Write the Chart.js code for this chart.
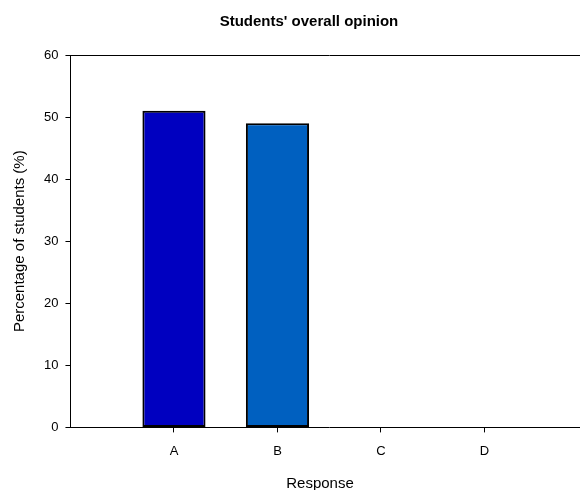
<!DOCTYPE html>
<html>
<head>
<meta charset="utf-8">
<script src="https://cdn.jsdelivr.net/npm/chart.js@4/dist/chart.umd.min.js"></script>
<style>
  html, body { margin: 0; padding: 0; background: #fff; overflow: hidden; }
  #wrap { position: absolute; left: 0; top: 0; width: 618px; height: 490px; }
  .txt { position: absolute; font-family: 'Liberation Sans', Arial, sans-serif; color: #000;
         white-space: nowrap; transform: translate(-50%, -50%); line-height: 1; }
  #title { left: 309px; top: 20px; font-size: 15px; font-weight: bold; }
  #xTitle { left: 320px; top: 482px; font-size: 15px; }
</style>
</head>
<body>
<div id="wrap"><canvas id="opinionChart" width="618" height="490"></canvas></div>
<div class="txt" id="title">Students' overall opinion</div>
<div class="txt" id="xTitle">Response</div>
<script>
// values
const responses = ["A", "B", "C", "D"];
const percentStudents = [51, 49, 0, 0];
const barColors = ["#0000c0", "#0060c0", "#0000c0", "#0060c0"];
const yTicks = [0, 10, 20, 30, 40, 50, 60];

// the original axis leaves one empty slot on each side of the categories
const labels = ["", ...responses, ""];
const values = [null, ...percentStudents, null];
const colors = ["#000", ...barColors, "#000"];

const FONT = "'Liberation Sans', Arial, sans-serif";

new Chart(document.getElementById("opinionChart"), {
  type: "bar",
  data: {
    labels,
    datasets: [{
      label: "Percentage of students",
      data: values,
      backgroundColor: colors,
      borderColor: "#000",
      borderWidth: 2,
      borderSkipped: false,
      barPercentage: 0.61,
      categoryPercentage: 1
    }]
  },
  options: {
    responsive: false,
    animation: false,
    devicePixelRatio: 1,
    layout: { padding: { left: 4, right: 30, top: 55, bottom: 20 } },
    plugins: {
      legend: { display: false },
      tooltip: { enabled: false },
      title: { display: false }
    },
    scales: {
      x: {
        offset: false,
        border: { display: true, color: "#000", width: 1 },
        grid: {
          offset: false,
          drawOnChartArea: false,
          drawTicks: true,
          tickLength: 5,
          tickColor: ctx => (labels[ctx.index] ? "#000" : "transparent")
        },
        ticks: {
          color: "#000",
          font: { family: FONT, size: 13 },
          padding: 11,
          maxRotation: 0,
          autoSkip: false
        }
      },
      y: {
        min: yTicks[0],
        max: yTicks[yTicks.length - 1],
        afterBuildTicks: axis => { axis.ticks = yTicks.map(v => ({ value: v })); },
        border: { display: true, color: "#000", width: 1 },
        grid: {
          drawOnChartArea: true,
          drawTicks: true,
          tickLength: 5,
          color: ctx => (ctx.tick && ctx.tick.value === 60 ? "#000" : "transparent"),
          tickColor: "#000"
        },
        ticks: {
          color: "#000",
          font: { family: FONT, size: 13 },
          padding: 7
        },
        title: {
          display: true,
          text: "Percentage of students (%)",
          color: "#000",
          font: { family: FONT, size: 15 },
          padding: { top: 7, bottom: 8 }
        }
      }
    }
  }
});
</script>
</body>
</html>
